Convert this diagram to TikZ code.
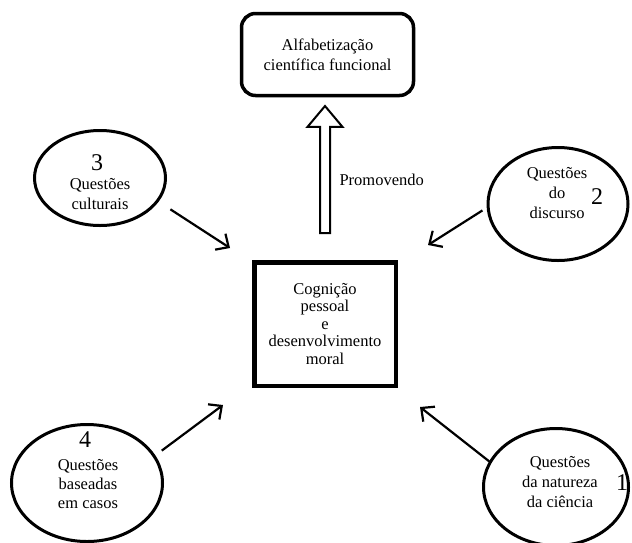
\documentclass[tikz,border=0pt]{standalone}
\usepackage{fontspec}
\setmainfont{Liberation Serif}
\usetikzlibrary{shapes.geometric,shapes.arrows,arrows.meta,calc}
\tikzset{
	bubble/.style={draw,ellipse,line width=3pt,inner sep=0pt},
	txt/.style={align=center,font=\fontsize{16.5}{20}\selectfont},
	num/.style={font=\fontsize{24}{24}\selectfont,inner sep=0pt},
	feed/.style={line width=2.2pt,-{Straight Barb[length=10pt,width=19pt]}},
}

\begin{document}
\begin{tikzpicture}[x=1pt,y=-1pt]
			\useasboundingbox (0,0) rectangle (632,542);
			% centro e objetivo
			\node[draw,rounded corners=14pt,line width=3.5pt,minimum width=172pt,minimum height=82pt,txt] (alfa) at (327.5,54.5) {Alfabetização\\científica funcional};
			\node[draw,line width=4.5pt,minimum width=141.5pt,minimum height=123.5pt,txt,font=\fontsize{16.5}{17.5}\selectfont] (cog) at (325,324) {Cognição\\pessoal\\e\\desenvolvimento\\moral};
			\node[draw,single arrow,rotate=90,line width=2pt,inner sep=4pt,minimum height=127pt,single arrow head extend=12.5pt,single arrow tip angle=80] (promo) at (325,172.5) {};
			\node[txt,anchor=west] (promolab) at (336,180) {Promovendo};
			% questoes
			\node[bubble,minimum width=131pt,minimum height=95pt] (c3) at (100,178) {};
			\node[bubble,minimum width=140pt,minimum height=113pt] (c2) at (558,204) {};
			\node[bubble,minimum width=151pt,minimum height=117pt] (c4) at (87,483) {};
			\node[bubble,minimum width=145pt,minimum height=117pt] (c1) at (556,487) {};
			\node[txt] (t3) at (100,194) {Questões\\culturais};
			\node[txt] (t2) at (557,193) {Questões\\do\\discurso};
			\node[txt,font=\fontsize{16.5}{19}\selectfont] (t4) at (88,484) {Questões\\baseadas\\em casos};
			\node[txt] (t1) at (560,482) {Questões\\da natureza\\da ciência};
			\node[num] (n3) at (97,163) {3};
			\node[num] (n2) at (597,197) {2};
			\node[num] (n4) at (85,440) {4};
			\node[num] (n1) at (622,483) {1};
			% setas
			\coordinate (in3) at (230,248);
			\coordinate (in2) at (428,245);
			\coordinate (in4) at (223,405);
			\coordinate (in1) at (420,407);
			\draw[feed,shorten <=14pt] (c3.-22.6) -- (in3);
			\draw[feed,shorten <=5pt] (c2.183) -- (in2);
			\draw[feed,shorten <=8pt] (c4.22.5) -- (in4);
			\draw[feed] (c1.159.7) -- (in1);
		\end{tikzpicture}
\end{document}
